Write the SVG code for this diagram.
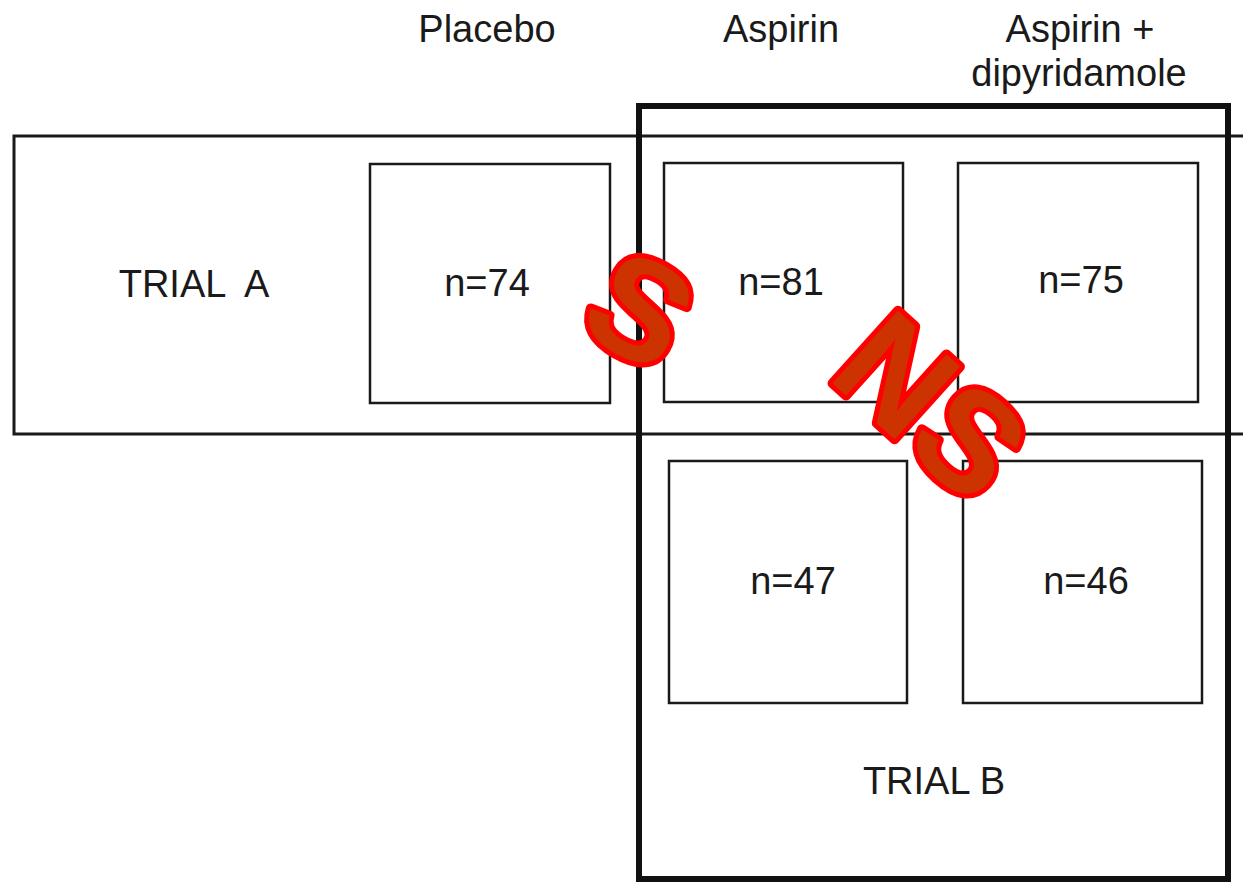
<svg xmlns="http://www.w3.org/2000/svg" width="1243" height="883" viewBox="0 0 1243 883">
<style>
.lbl{font-family:"Liberation Sans",Arial,sans-serif;font-size:38px;fill:#1a1a1a;text-anchor:middle}
.cell{fill:none;stroke:#1a1a1a;stroke-width:2.5}
.sig{font-family:"Liberation Sans",Arial,sans-serif;font-weight:bold;fill:#cc3300;stroke:#ff0000;stroke-width:10;stroke-linejoin:round;paint-order:stroke;text-anchor:middle}
</style>
<rect width="1243" height="883" fill="#ffffff"/>
<g id="headers">
<text class="lbl" x="487" y="42">Placebo</text>
<text class="lbl" x="781" y="42">Aspirin</text>
<text class="lbl" x="1080" y="42">Aspirin +</text>
<text class="lbl" x="1079" y="86">dipyridamole</text>
</g>
<g id="trialA">
<rect x="14" y="136" width="1260" height="298" fill="none" stroke="#1a1a1a" stroke-width="3"/>
<text class="lbl" x="194" y="297" style="white-space:pre">TRIAL  A</text>
</g>
<g id="trialB">
<rect x="639" y="106" width="589" height="773" fill="none" stroke="#111" stroke-width="6"/>
<text class="lbl" x="934" y="794">TRIAL B</text>
</g>
<g id="placeboA">
<rect class="cell" x="370" y="164" width="240" height="239"/>
<text class="lbl" x="487" y="296">n=74</text>
</g>
<g id="aspirinA">
<rect class="cell" x="664" y="163" width="239" height="239"/>
<text class="lbl" x="781" y="295">n=81</text>
</g>
<g id="aspdipA">
<rect class="cell" x="958" y="163" width="240" height="239"/>
<text class="lbl" x="1081" y="293">n=75</text>
</g>
<g id="aspirinB">
<rect class="cell" x="669" y="461" width="238" height="242"/>
<text class="lbl" x="793" y="594">n=47</text>
</g>
<g id="aspdipB">
<rect class="cell" x="963" y="461" width="239" height="242"/>
<text class="lbl" x="1086" y="594">n=46</text>
</g>
<g id="connectors"></g>
<g id="sigS">
<text class="sig" font-size="142" transform="translate(641,308) rotate(30)" x="0" y="51">S</text>
</g>
<g id="sigNS">
<text class="sig" font-size="142" transform="translate(933,405) rotate(42)" x="0" y="51">NS</text>
</g>
</svg>
